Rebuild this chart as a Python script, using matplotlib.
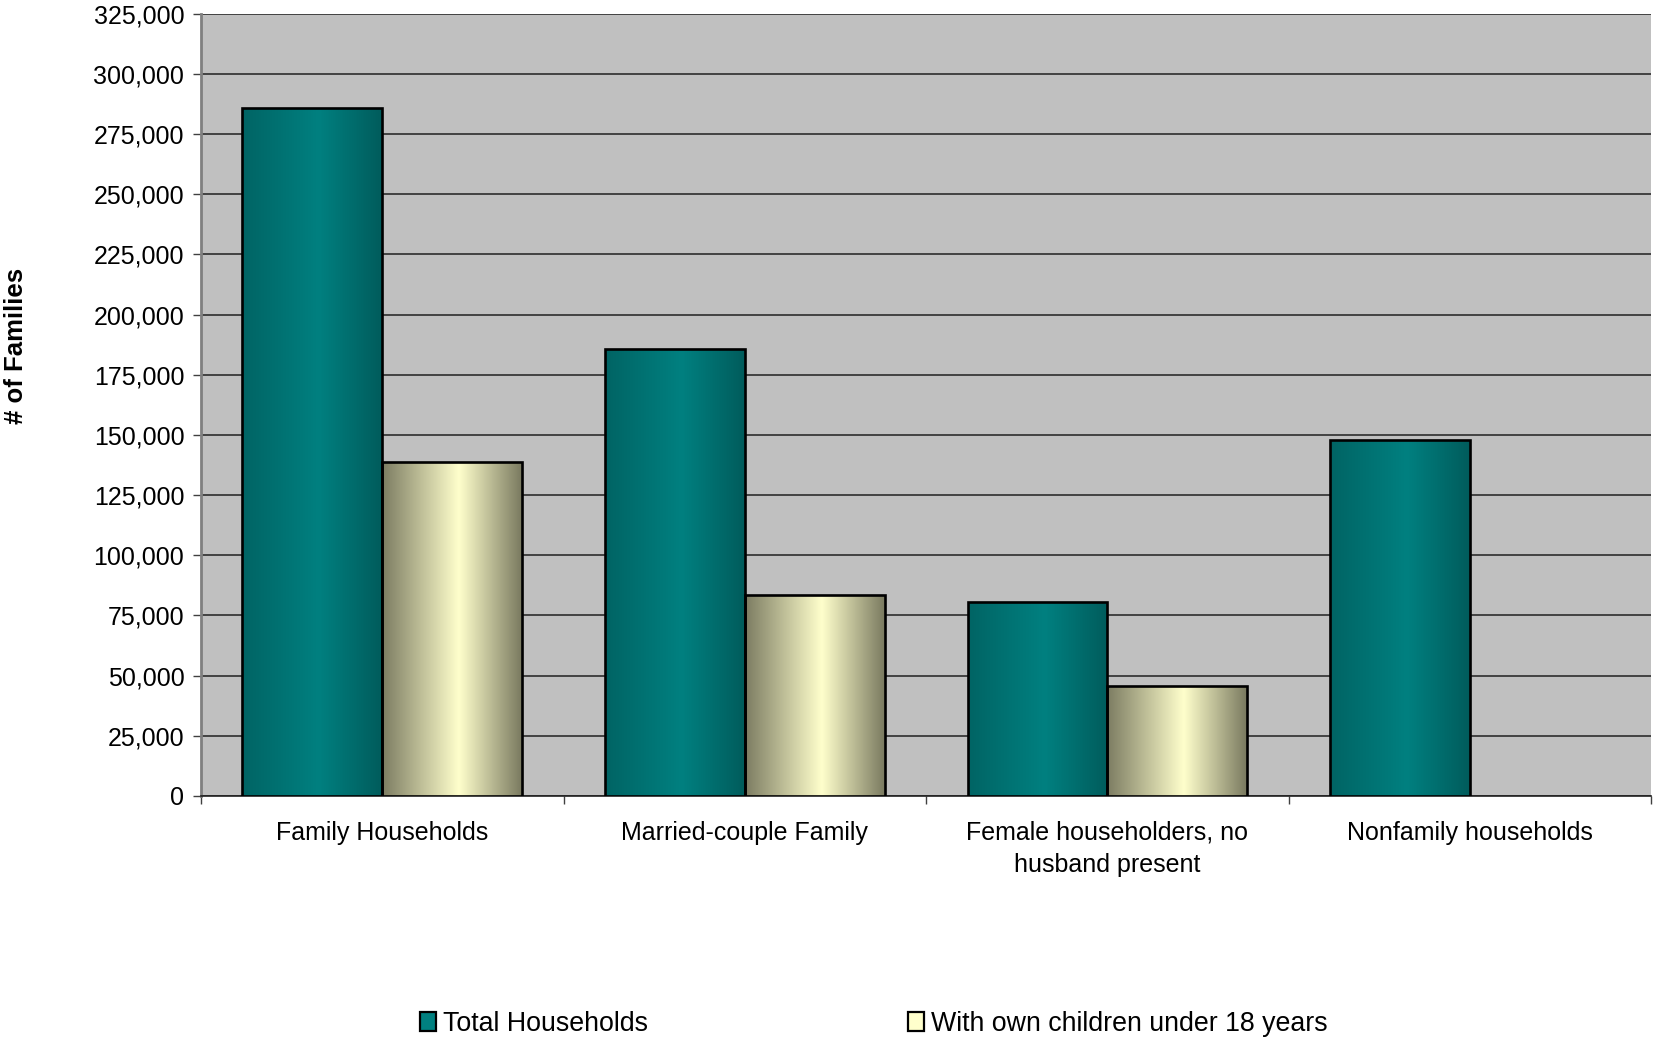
import numpy as np
import matplotlib
matplotlib.use("Agg")
import matplotlib.pyplot as plt
from matplotlib.colors import LinearSegmentedColormap
from matplotlib.patches import Patch
import matplotlib.ticker as ticker

plt.rcParams.update({"font.family": "Liberation Sans", "font.size": 18})

# ── Data ──────────────────────────────────────────────────────────────────────
categories = ["Family Households", "Married-couple Family",
              "Female householders, no\nhusband present", "Nonfamily households"]
total_households = [286000, 185500, 80700, 147900]
with_children    = [138600, 83700, 45600, np.nan]
series_names = ["Total Households", "With own children under 18 years"]

# ── Colours ───────────────────────────────────────────────────────────────────
C_PLOT_BG = "#C0C0C0"
TEAL_CMAP  = LinearSegmentedColormap.from_list(
    "teal", [(0, "#006464"), (0.55, "#008080"), (1, "#005C5C")])
CREAM_CMAP = LinearSegmentedColormap.from_list(
    "cream", [(0, "#7C7C62"), (0.55, "#FFFFCC"), (1, "#7A7A60")])
C_TEAL_SOLID  = "#008080"
C_CREAM_SOLID = "#FFFFCC"

fig = plt.figure(figsize=(16.53, 10.39), dpi=100)
ax = fig.add_axes([0.1216, 0.2339, 0.8774, 0.7529])
ax.set_facecolor(C_PLOT_BG)

x = np.arange(len(categories))
w = 0.386


def gradient_bars(ax, bars, cmap):
    grad = np.linspace(0, 1, 256).reshape(1, -1)
    for b in bars:
        h = b.get_height()
        if not np.isfinite(h) or h <= 0:
            continue
        x0, y0 = b.get_x(), b.get_y()
        im = ax.imshow(grad, cmap=cmap, aspect="auto",
                       extent=(x0, x0 + b.get_width(), y0, y0 + h),
                       zorder=b.get_zorder() - 0.1, interpolation="bicubic")
        im.set_clip_path(b)
        b.set_facecolor("none")


b1 = ax.bar(x - w / 2, total_households, w, edgecolor="black",
            linewidth=1.9, zorder=3)
vals2 = [v if np.isfinite(v) else 0 for v in with_children]
b2 = ax.bar(x + w / 2, vals2, w, edgecolor="black", linewidth=1.9, zorder=3)
for b, v in zip(b2, with_children):
    if not np.isfinite(v):
        b.set_visible(False)
gradient_bars(ax, b1, TEAL_CMAP)
gradient_bars(ax, [b for b in b2 if b.get_visible()], CREAM_CMAP)

# ── Axes ──────────────────────────────────────────────────────────────────────
ax.set_xlim(-0.5, len(categories) - 0.5)
ax.set_ylim(0, 325000)
ax.yaxis.set_major_locator(ticker.MultipleLocator(25000))
ax.yaxis.set_major_formatter(ticker.FuncFormatter(lambda v, p: f"{int(v):,}"))
ax.grid(axis="y", color="#202020", linewidth=1.1, zorder=1)
ax.set_axisbelow(True)

ax.set_xticks(x)
ax.set_xticklabels(categories, linespacing=1.4)
ax.set_xticks(np.arange(-0.5, len(categories), 1.0), minor=True)
ax.tick_params(axis="x", which="major", length=0, pad=18, labelsize=18)
ax.tick_params(axis="x", which="minor", length=6, width=1, color="#404040",
               direction="out")
ax.tick_params(axis="y", length=6, width=1, color="#404040", pad=6,
               labelsize=18)

for s in ["top", "right"]:
    ax.spines[s].set_visible(False)
ax.spines["left"].set_color("#808080")
ax.spines["left"].set_linewidth(2)
ax.spines["bottom"].set_color("#202020")
ax.spines["bottom"].set_linewidth(1.2)

fig.text(16 / 1653, 1 - 346 / 1039, "# of Families", rotation=90,
         ha="center", va="center", fontsize=18.5, fontweight="bold")

# ── Legend ────────────────────────────────────────────────────────────────────
handles = [Patch(facecolor=C_TEAL_SOLID, edgecolor="black", linewidth=1.6),
           Patch(facecolor=C_CREAM_SOLID, edgecolor="black", linewidth=1.6)]
fig.legend(handles, series_names, loc="center left",
           bbox_to_anchor=(420 / 1653, 1 - 1024 / 1039), ncol=2,
           frameon=False, fontsize=19.3, handlelength=0.6, handleheight=0.7,
           handletextpad=0.25, columnspacing=9.7, borderpad=0,
           borderaxespad=0)

fig.savefig("out.png", dpi=100, facecolor="white")
